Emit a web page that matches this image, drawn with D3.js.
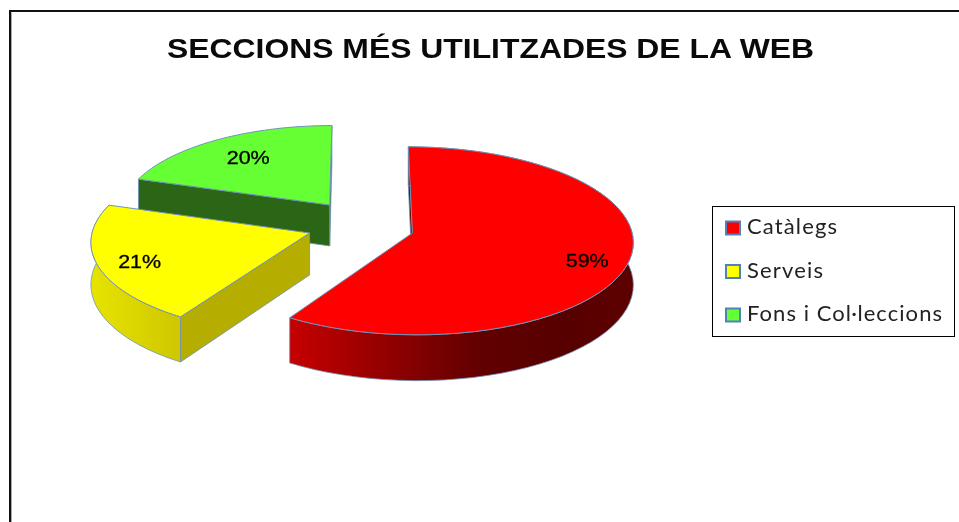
<!DOCTYPE html>
<html>
<head>
<meta charset="utf-8">
<script src="https://cdn.jsdelivr.net/npm/d3@7"></script>
<style>
html,body{margin:0;padding:0;background:#fff;overflow:hidden}
svg{display:block;filter:blur(0.4px)}
</style>
</head>
<body>
<svg id="c" width="959" height="522"></svg>
<script>
const titleText = "SECCIONS MÉS UTILITZADES DE LA WEB";
const categories = ["Catàlegs", "Serveis", "Fons i Col·leccions"];
const values = [59, 21, 20];
const labels = ["59%", "21%", "20%"];

// layout and style, per slice
const topColors = ["#ff0000", "#ffff00", "#66ff33"];
const explodeX = [0.236, -0.227, -0.14];
const explodeY = [0, 0, -0.305];
const sliceRadius = [0.99, 0.98, 0.955];
const labelRadius = [0.8, 0.79, 0.68];
const labelNudge = [1.5, -2, -5];

const svg = d3.select("#c");
const defs = svg.append("defs");
const STROKE = "#6f93b8";

// perspective projection of the pie plane
const A = 222, B = 94.3, P = 0.084, VX = 360, VY = 233, DEPTH = 42;
const proj = (X, Y, down = 0) => {
  const k = 1 / (1 - P * Y);
  return [VX + A * X * k, VY + B * Y * k + down * k];
};
const line = d3.line();

const pie = d3.pie().sort(null).value(d => d)(values);
const slices = pie.map((p, i) => ({...p, i, ox: explodeX[i], oy: explodeY[i], r: sliceRadius[i]}));

const rim = (s, a0, a1) => d3.range(0, 61).map(j => {
  const t = a0 + (a1 - a0) * j / 60;
  return [s.ox + s.r * Math.sin(t), s.oy - s.r * Math.cos(t)];
});
const projAll = (pts, down = 0) => pts.map(p => proj(p[0], p[1], down));

// frame
svg.append("path").attr("d", "M10,522V11H959").attr("fill", "none").attr("stroke", "#111").attr("stroke-width", 2);
svg.append("path").attr("d", "M11.5,522V12.5").attr("fill", "none").attr("stroke", "#aaa").attr("stroke-width", 1);

// gradients
function grad(id, x1, x2, stops) {
  const g = defs.append("linearGradient").attr("id", id)
    .attr("gradientUnits", "userSpaceOnUse").attr("x1", x1).attr("x2", x2).attr("y1", 0).attr("y2", 0);
  stops.forEach(s => g.append("stop").attr("offset", s[0]).attr("stop-color", s[1]));
}
grad("gRed", 293, 632, [[0, "#c40000"], [0.25, "#970000"], [0.55, "#620000"], [0.8, "#560000"], [1, "#5e0000"]]);
grad("gYel", 91, 182, [[0, "#e6e400"], [1, "#cfc600"]]);

const wall = (pts, fill) => {
  const top = projAll(pts), bot = projAll(pts, DEPTH).reverse();
  svg.append("path").attr("d", line(top.concat(bot)) + "Z")
    .attr("fill", fill).attr("stroke", STROKE).attr("stroke-width", 0.8).attr("stroke-linejoin", "round");
};
const radial = (s, a) => [[s.ox, s.oy], [s.ox + s.r * Math.sin(a), s.oy - s.r * Math.cos(a)]];

const face = s => {
  const pts = [[s.ox, s.oy]].concat(rim(s, s.startAngle, s.endAngle));
  svg.append("path").attr("d", line(projAll(pts)) + "Z")
    .attr("fill", topColors[s.i]).attr("stroke", STROKE).attr("stroke-width", 1).attr("stroke-linejoin", "round");
};

// back to front: green, yellow, red
const [red, yel, gre] = slices;
wall(radial(gre, gre.endAngle), "#2b6516");
wall(radial(gre, gre.startAngle), "#2b6516");
face(gre);

wall(rim(yel, yel.startAngle, yel.endAngle), "url(#gYel)");
wall(radial(yel, yel.startAngle), "#b5ad00");
face(yel);

wall(radial(red, red.startAngle), "#5a0000");
wall(rim(red, red.startAngle, red.endAngle), "url(#gRed)");
face(red);

// data labels
const labelFont = "'Liberation Sans', Arial, sans-serif";
const labelPos = s => {
  const m = (s.startAngle + s.endAngle) / 2, r = labelRadius[s.i];
  return proj(s.ox + r * Math.sin(m), s.oy - r * Math.cos(m));
};
svg.append("g").selectAll("text").data(slices).join("text")
  .attr("x", s => labelPos(s)[0])
  .attr("y", s => labelPos(s)[1] + 11 + labelNudge[s.i])
  .attr("text-anchor", "middle")
  .attr("font-family", labelFont).attr("font-size", 18).attr("fill", "#000")
  .attr("stroke", "#000").attr("stroke-width", 0.3)
  .attr("textLength", 43).attr("lengthAdjust", "spacingAndGlyphs")
  .text(s => labels[s.i]);

// title
svg.append("text").attr("x", 167).attr("y", 58)
  .attr("font-family", labelFont).attr("font-weight", "bold").attr("font-size", 28).attr("fill", "#0a0a0a")
  .attr("textLength", 647).attr("lengthAdjust", "spacingAndGlyphs")
  .text(titleText);

// legend
const legend = svg.append("g");
legend.append("rect").attr("x", 712.5).attr("y", 206.5).attr("width", 242).attr("height", 130)
  .attr("fill", "#fff").attr("stroke", "#000").attr("stroke-width", 1);
const rowY = d3.scalePoint().domain(categories).range([228, 315]);
const row = legend.selectAll("g").data(categories).join("g")
  .attr("transform", d => `translate(0,${rowY(d)})`);
row.append("rect").attr("x", 726).attr("y", -6.5).attr("width", 14).attr("height", 13)
  .attr("fill", (d, i) => topColors[i]).attr("stroke", "#4f81bd").attr("stroke-width", 2);
const legendWidths = [90, 76, 195];
row.append("text").attr("x", 747).attr("y", 6)
  .attr("font-family", "Lato, 'Open Sans', sans-serif").attr("font-size", 22).attr("fill", "#222")
  .attr("textLength", (d, i) => legendWidths[i]).attr("lengthAdjust", "spacing")
  .text(d => d);
</script>
</body>
</html>
